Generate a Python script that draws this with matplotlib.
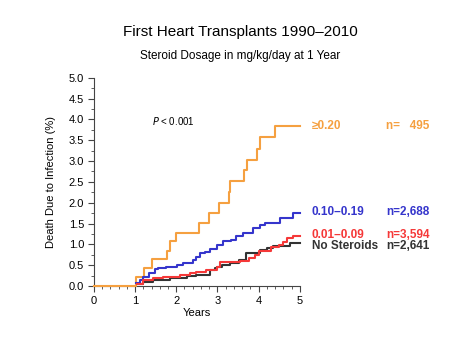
import matplotlib
matplotlib.use("Agg")
import matplotlib.pyplot as plt
from matplotlib.ticker import MultipleLocator

plt.rcParams['font.family'] = ['Liberation Sans', 'DejaVu Sans']

# Data (years, cumulative % death due to infection)
orange_t = [0, 1.02, 1.22, 1.41, 1.78, 1.84, 1.99, 2.56, 2.80, 3.04, 3.27, 3.30, 3.64, 3.72, 3.95, 4.03, 4.40, 5.0]
orange_v = [0, 0.22, 0.43, 0.64, 0.85, 1.07, 1.28, 1.52, 1.75, 1.99, 2.26, 2.52, 2.79, 3.03, 3.29, 3.57, 3.85, 3.85]

blue_t = [1.02, 1.12, 1.20, 1.34, 1.48, 1.56, 1.76, 2.01, 2.17, 2.41, 2.49, 2.57, 2.69, 2.82, 2.98, 3.14, 3.34, 3.46, 3.62, 3.87, 4.03, 4.15, 4.52, 4.84, 5.0]
blue_v = [0.06, 0.14, 0.22, 0.30, 0.40, 0.43, 0.46, 0.50, 0.55, 0.62, 0.70, 0.78, 0.82, 0.88, 0.99, 1.07, 1.11, 1.19, 1.28, 1.39, 1.47, 1.52, 1.63, 1.76, 1.76]

red_t = [1.05, 1.19, 1.44, 1.68, 2.09, 2.33, 2.49, 2.73, 2.98, 3.06, 3.55, 3.76, 3.92, 4.00, 4.30, 4.50, 4.60, 4.68, 4.84, 5.0]
red_v = [0.05, 0.14, 0.20, 0.22, 0.27, 0.30, 0.34, 0.38, 0.45, 0.58, 0.60, 0.67, 0.75, 0.85, 0.94, 0.99, 1.05, 1.15, 1.19, 1.19]

black_t = [1.07, 1.19, 1.44, 1.85, 2.25, 2.49, 2.81, 2.94, 3.00, 3.10, 3.30, 3.52, 3.70, 4.03, 4.20, 4.36, 4.76, 5.0]
black_v = [0.05, 0.09, 0.14, 0.18, 0.24, 0.27, 0.38, 0.43, 0.46, 0.50, 0.55, 0.63, 0.80, 0.87, 0.91, 0.96, 1.03, 1.03]

groups = ["\u22650.20", "0.10\u20130.19", "0.01\u20130.09", "No Steroids"]
counts = ["n=   495", "n=2,688", "n=3,594", "n=2,641"]

C_OR = "#F5A040"
C_BL = "#3535CC"
C_RD = "#F53838"
C_BK = "#333333"

fig = plt.figure(figsize=(4.67, 3.40), dpi=100)
ax = fig.add_axes([0.201, 0.159, 0.441, 0.612])

series = [(orange_t, orange_v, C_OR), (blue_t, blue_v, C_BL),
          (black_t, black_v, C_BK), (red_t, red_v, C_RD)]
for t, v, c in series:
    ax.plot(t, v, drawstyle='steps-post', color=c, lw=1.5, clip_on=False, zorder=3)

ax.set_xlim(0, 5)
ax.set_ylim(0, 5)
ax.xaxis.set_major_locator(MultipleLocator(1))
ax.xaxis.set_minor_locator(MultipleLocator(0.2))
ax.yaxis.set_major_locator(MultipleLocator(0.5))
ax.yaxis.set_minor_locator(MultipleLocator(0.25))
ax.yaxis.set_major_formatter(matplotlib.ticker.FormatStrFormatter('%.1f'))
for s in ['top', 'right']:
    ax.spines[s].set_visible(False)
for s in ['left', 'bottom']:
    ax.spines[s].set_color('#444444')
    ax.spines[s].set_linewidth(0.8)
ax.tick_params(which='major', length=4, width=0.8, color='#444444', labelsize=8, pad=3)
ax.tick_params(which='minor', length=2, width=0.6, color='#444444')

ax.set_xlabel("Years", fontsize=8, labelpad=2)
ax.set_ylabel("Death Due to Infection (%)", fontsize=8, labelpad=9)

fig.text(0.514, 0.895, "First Heart Transplants 1990\u20132010", ha='center', fontsize=11)
fig.text(0.514, 0.827, "Steroid Dosage in mg/kg/day at 1 Year", ha='center', fontsize=8.5)

ax.text(1.41, 3.97, r"$\it{P}$ < 0.001", fontsize=7, ha='left', va='center')

label_y = [3.85, 1.78, 1.23, 0.96]
colors = [C_OR, C_BL, C_RD, C_BK]
for g, n, y, c in zip(groups, counts, label_y, colors):
    ax.text(5.29, y, g, color=c, fontsize=8.5, fontweight='bold', ha='left', va='center', clip_on=False)
    ax.text(7.09, y, n, color=c, fontsize=8.5, fontweight='bold', ha='left', va='center', clip_on=False)

fig.savefig("out.png", dpi=100)
